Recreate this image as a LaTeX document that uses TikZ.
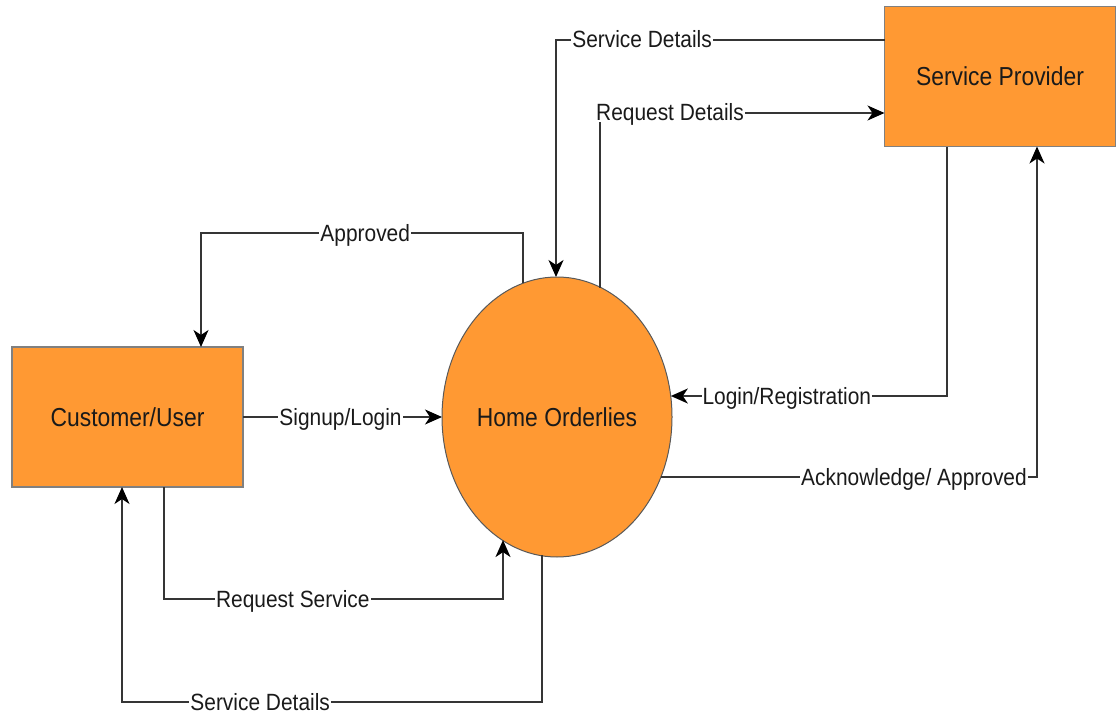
\documentclass[tikz,border=0pt]{standalone}
\usepackage{fontspec}
\setmainfont{Liberation Sans}
\newfontfamily\lblfont[FakeStretch=0.89]{Liberation Sans}
\newfontfamily\boxfont[FakeStretch=0.88]{Liberation Sans}
\usetikzlibrary{arrows.meta,calc,shapes.geometric}

\definecolor{procfill}{HTML}{FF9933}
\definecolor{boxline}{HTML}{808080}
\definecolor{txt}{HTML}{1A1A1A}
\definecolor{wire}{HTML}{353535}

\begin{document}
\begin{tikzpicture}[x=1pt,y=-1pt,
  entity/.style={draw=boxline, fill=procfill, line width=1.5pt,
    minimum width=231pt, minimum height=140pt, inner sep=0pt, outer sep=0pt,
    text=txt, font=\boxfont\fontsize{26}{30}\selectfont},
  process/.style={ellipse, draw=black!65, fill=procfill, line width=1pt,
    minimum width=230pt, minimum height=280pt, inner sep=0pt, outer sep=0pt,
    text=txt, font=\boxfont\fontsize{26}{30}\selectfont},
  flow/.style={draw=wire, line width=1.8pt,
    -{Stealth[length=17pt, width=15pt, inset=5pt, color=black]}},
  lbl/.style={fill=white, text=txt, inner xsep=1pt, inner ysep=1pt,
    text height=17pt, text depth=0pt, anchor=base, yshift=-8pt,
    font=\lblfont\fontsize{23.5}{28}\selectfont}]
\useasboundingbox (0,0) rectangle (1119,717);

% external entities and the central process
\node[entity] (cu) at (127.5,417) {Customer/User};
\node[entity] (sp) at (1000,76.5) {Service Provider};
\node[process] (ho) at (557,417) {Home Orderlies};

% bend points of the orthogonal flows
\coordinate (apA) at (523,233);
\coordinate (apB) at (201,233);
\coordinate (rsA) at (164,599);
\coordinate (rsB) at (503,599);
\coordinate (sbA) at (542,702);
\coordinate (sbB) at (122,702);
\coordinate (stA) at (556,40);
\coordinate (rdA) at (600,113);
\coordinate (lrA) at (947,396);
\coordinate (akA) at (1037,477);

% data flows
\draw[flow] (apA |- ho.104.2) -- (apA) -- node[lbl,pos=.49]{Approved} (apB) -- (apB |- cu.north);
\draw[flow] (cu.east) -- node[lbl,pos=.49]{Signup/Login} (ho.west);
\draw[flow] (rsA |- cu.south) -- (rsA) -- node[lbl,pos=.38]{Request Service} (rsB) -- (rsB |- ho.246.4);
\draw[flow] (sbA |- ho.263.8) -- (sbA) -- node[lbl,pos=.671]{Service Details} (sbB) -- (sbB |- cu.south);
\draw[flow] (sp.west |- stA) -- node[lbl,pos=.738]{Service Details} (stA) -- (stA |- ho.north);
\draw[flow] (rdA |- ho.71.7) -- (rdA) -- node[lbl,pos=.246]{Request Details} (sp.west |- rdA);
\draw[flow] (lrA |- sp.south) -- (lrA) -- node[lbl,pos=.58]{Login/Registration} (lrA -| ho.10.46);
\draw[flow] (akA -| ho.330) -- node[lbl,pos=.673]{Acknowledge/ Approved} (akA) -- (akA |- sp.south);
\end{tikzpicture}
\end{document}
